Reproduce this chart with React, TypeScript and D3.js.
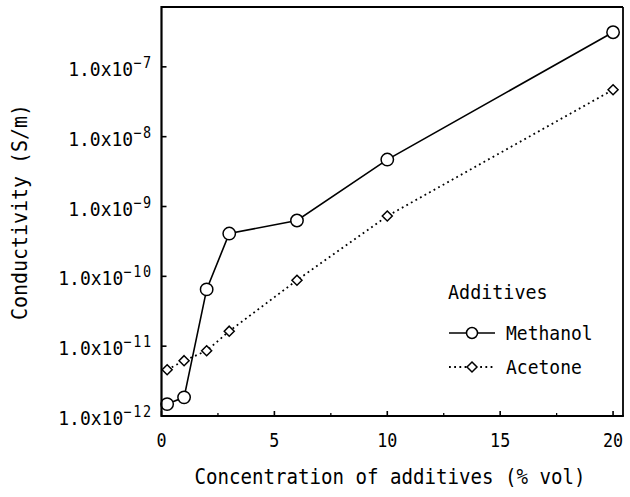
import React from "react";
import * as d3 from "d3";

const concentrations = [0.25, 1, 2, 3, 6, 10, 20];
const methanol = [1.48e-12, 1.85e-12, 6.5e-11, 4.1e-10, 6.3e-10, 4.7e-9, 3.13e-7];
const acetone = [4.6e-12, 6.2e-12, 8.6e-12, 1.64e-11, 8.8e-11, 7.3e-10, 4.7e-8];
const xTicks = [0, 5, 10, 15, 20];
const xMinorTicks = [2.5, 7.5, 12.5, 17.5];
const yTickExponents = [-12, -11, -10, -9, -8, -7];
const seriesNames = ["Methanol", "Acetone"];
const legendTitle = "Additives";
const xTitle = "Concentration of additives (% vol)";
const yTitle = "Conductivity (S/m)";

const W = 630;
const H = 497;
const FONT = "'DejaVu Sans Mono', monospace";

function T(props: {
  x: number;
  y: number;
  size: number;
  sx?: number;
  rotate?: number;
  anchor?: "start" | "middle" | "end";
  children: React.ReactNode;
}) {
  const { x, y, size, sx = 0.9, rotate = 0, anchor = "start", children } = props;
  return (
    <text
      transform={`translate(${x},${y}) rotate(${rotate}) scale(${sx},1)`}
      textAnchor={anchor}
      fontSize={size}
      fill="#000"
      fontFamily={FONT}
    >
      {children}
    </text>
  );
}

export default function App() {
  const left = 161.5, right = 623, top = 7, bottom = 416;
  const x = d3.scaleLinear().domain([0, 20.44]).range([left, right]);
  const y = d3.scaleLog().domain([1e-12, Math.pow(10, -6.143)]).range([bottom, top]);

  const line = d3
    .line<[number, number]>()
    .x((d) => x(d[0]))
    .y((d) => y(d[1]));

  const mPts: [number, number][] = concentrations.map((c, i) => [c, methanol[i]]);
  const aPts: [number, number][] = concentrations.map((c, i) => [c, acetone[i]]);

  const diamond = (cx: number, cy: number, r: number) =>
    `M${cx},${cy - r}L${cx + r},${cy}L${cx},${cy + r}L${cx - r},${cy}Z`;

  const legX = 449;
  const legY1 = 333;
  const legY2 = 367;

  return (
    <svg
      width={W}
      height={H}
      style={{ position: "absolute", left: 0, top: 0, background: "#fff" }}
      fontFamily={FONT}
    >
      <rect x={0} y={0} width={W} height={H} fill="#fff" />
      {/* series lines */}
      <path d={line(aPts) || ""} fill="none" stroke="#000" strokeWidth={1.8} strokeDasharray="1.8,3.4" />
      <path d={line(mPts) || ""} fill="none" stroke="#000" strokeWidth={1.6} />
      {aPts.map((p, i) => (
        <path key={"a" + i} d={diamond(x(p[0]), y(p[1]), 5)} fill="#fff" stroke="#000" strokeWidth={1.5} />
      ))}
      {mPts.map((p, i) => (
        <circle key={"m" + i} cx={x(p[0])} cy={y(p[1])} r={6.2} fill="#fff" stroke="#000" strokeWidth={1.5} />
      ))}

      {/* frame */}
      <line x1={left} x2={right} y1={top} y2={top} stroke="#000" strokeWidth={1.8} />
      <line x1={right} x2={right} y1={top} y2={bottom} stroke="#000" strokeWidth={1.8} />
      <line x1={left} x2={left} y1={top - 0.9} y2={bottom + 1} stroke="#000" strokeWidth={2.2} />
      <line x1={left} x2={right + 0.9} y1={bottom} y2={bottom} stroke="#000" strokeWidth={2.2} />

      {/* y ticks */}
      {yTickExponents.map((e) => {
        const yy = y(Math.pow(10, e));
        return (
          <g key={"yt" + e}>
            <line x1={left} x2={left + 5} y1={yy} y2={yy} stroke="#000" strokeWidth={1.6} />
            <T x={153} y={yy + 9} size={20} sx={0.9} anchor="end">
              1.0x10
              <tspan fontSize={15} dy={-8} letterSpacing={2}>
                {"\u2212" + Math.abs(e)}
              </tspan>
            </T>
          </g>
        );
      })}

      {/* x ticks */}
      {xTicks.map((t) => (
        <g key={"xt" + t}>
          <line x1={x(t)} x2={x(t)} y1={bottom} y2={bottom - 5} stroke="#000" strokeWidth={1.6} />
          <T x={x(t)} y={447} size={19} sx={0.88} anchor="middle">
            {t}
          </T>
        </g>
      ))}
      {xMinorTicks.map((t) => (
        <line key={"xm" + t} x1={x(t)} x2={x(t)} y1={bottom} y2={bottom - 3} stroke="#000" strokeWidth={1.3} />
      ))}

      {/* axis titles */}
      <T x={390} y={484} size={21} sx={0.91} anchor="middle">
        {xTitle}
      </T>
      <T x={27} y={212} size={21} sx={0.95} rotate={-90} anchor="middle">
        {yTitle}
      </T>

      {/* legend */}
      <T x={448} y={299} size={20} sx={0.92}>
        {legendTitle}
      </T>
      <line x1={legX} x2={legX + 46} y1={legY1} y2={legY1} stroke="#000" strokeWidth={1.6} />
      <circle cx={legX + 23} cy={legY1} r={5.5} fill="#fff" stroke="#000" strokeWidth={1.5} />
      <T x={506} y={legY1 + 7} size={20} sx={0.9}>
        {seriesNames[0]}
      </T>
      <line x1={legX} x2={legX + 46} y1={legY2} y2={legY2} stroke="#000" strokeWidth={1.8} strokeDasharray="1.8,3.4" />
      <path d={diamond(legX + 23, legY2, 5)} fill="#fff" stroke="#000" strokeWidth={1.5} />
      <T x={506} y={legY2 + 7} size={20} sx={0.9}>
        {seriesNames[1]}
      </T>
    </svg>
  );
}
